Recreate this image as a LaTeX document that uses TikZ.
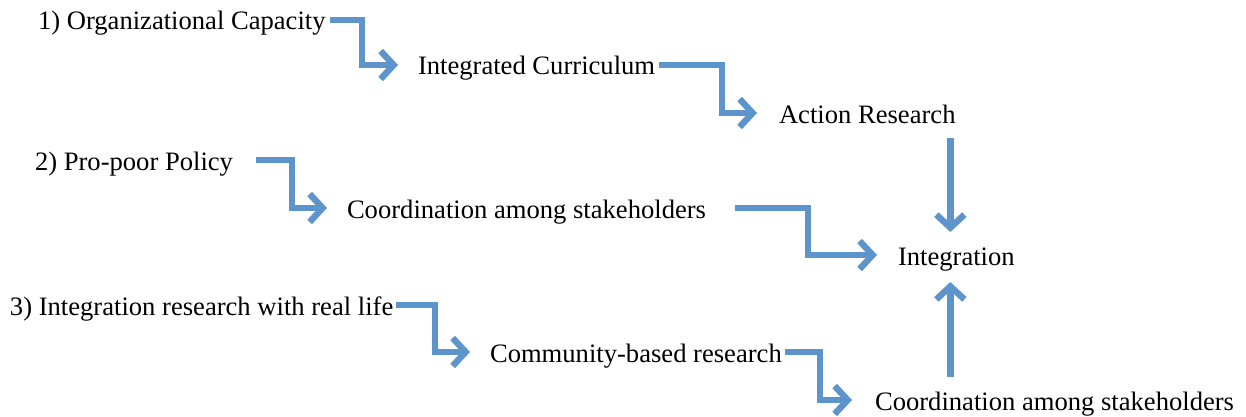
\documentclass[tikz,border=0pt]{standalone}
\usepackage{fontspec}
\setmainfont{Liberation Serif}
\usetikzlibrary{arrows.meta}
\definecolor{arrowblue}{RGB}{94,148,204}
\tikzstyle{item} = [anchor=west, inner sep=0pt, outer sep=0pt,
    text height=11pt, text depth=1pt, font=\fontsize{13.3}{16}\selectfont]
\tikzstyle{line} = [draw, arrowblue, line width=3.2pt, line join=miter,
    -{Straight Barb[length=6.5pt,width=14pt]}]

\begin{document}
\begin{tikzpicture}[x=0.5pt, y=-0.5pt]
    \useasboundingbox (0,0) rectangle (1246,417);

    % Place nodes
    \node [item] (oc)   at (38,20)   {1) Organizational Capacity};
    \node [item] (ic)   at (418,65)  {Integrated Curriculum};
    \node [item] (ar)   at (779,113) {Action Research};
    \node [item] (pp)   at (35,160)  {2) Pro-poor Policy};
    \node [item] (cs1)  at (347,208) {Coordination among stakeholders};
    \node [item] (int)  at (898,255) {Integration};
    \node [item] (ir)   at (10,305)  {3) Integration research with real life};
    \node [item] (cbr)  at (490,352) {Community-based research};
    \node [item] (cs2)  at (875,400) {Coordination among stakeholders};

    % Draw edges
    \path [line, shorten <=2pt, shorten >=10pt] (oc.east) -| ([xshift=-28pt]ic.west) -- (ic.west);
    \path [line, shorten <=2pt, shorten >=11pt] (ic.east) -| ([xshift=-28.5pt]ar.west) -- (ar.west);
    \path [line, shorten <=11.5pt, shorten >=10pt] (pp.east) -| ([xshift=-27.5pt]cs1.west) -- (cs1.west);
    \path [line, shorten <=14.5pt, shorten >=10.5pt] (cs1.east) -| ([xshift=-45pt]int.west) -- (int.west);
    \path [line, shorten <=1.5pt, shorten >=10pt] (ir.east) -| ([xshift=-27.5pt]cbr.west) -- (cbr.west);
    \path [line, shorten <=1.5pt, shorten >=11.5pt] (cbr.east) -| ([xshift=-27.5pt]cs2.west) -- (cs2.west);
    \path [line, shorten <=6.5pt, shorten >=5.5pt] ([xshift=-3pt]int.north |- ar.south) -- ([xshift=-3pt]int.north);
    \path [line, shorten <=5.5pt, shorten >=7.5pt] ([xshift=-3pt]int.south |- cs2.north) -- ([xshift=-3pt]int.south);

\end{tikzpicture}
\end{document}
